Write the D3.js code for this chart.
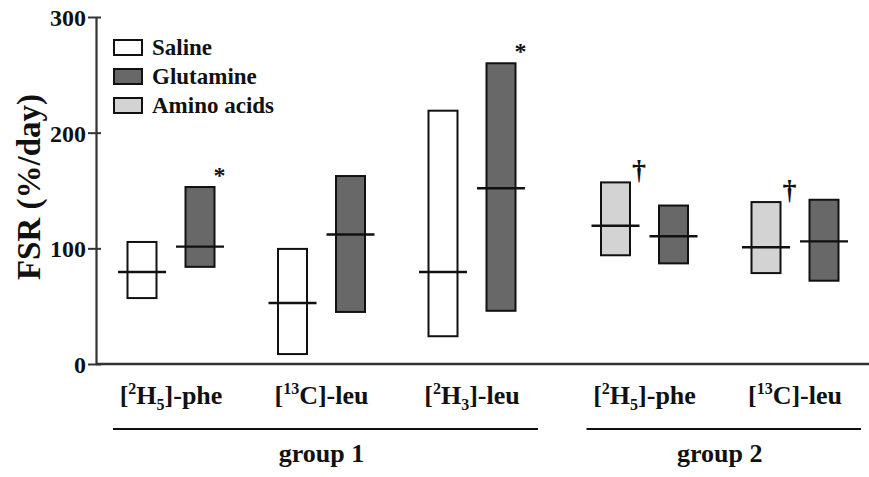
<!DOCTYPE html>
<html>
<head>
<meta charset="utf-8">
<script src="https://cdn.jsdelivr.net/npm/d3@7"></script>
<style>
  body { margin: 0; background: #fff; }
  text { font-family: 'Liberation Serif', 'Times New Roman', serif; font-weight: bold; fill: #111; }
</style>
</head>
<body>
<svg id="chart" width="869" height="477"></svg>
<script>
// categories, in drawing order
const tracers = ['[2H5]-phe', '[13C]-leu', '[2H3]-leu', '[2H5]-phe', '[13C]-leu']
const tracerGroups = ['group 1', 'group 1', 'group 1', 'group 2', 'group 2']
const groupNames = ['group 1', 'group 2']
const treatments = ['Saline', 'Glutamine', 'Amino acids']

// first / second box in each tracer slot
const boxTreatment = [
  ['Saline', 'Glutamine'],
  ['Saline', 'Glutamine'],
  ['Saline', 'Glutamine'],
  ['Amino acids', 'Glutamine'],
  ['Amino acids', 'Glutamine']
]
// min, median, max (FSR %/day)
const boxLow = [[57, 84], [8.6, 45], [24, 46], [94, 87], [78.6, 72]]
const boxMid = [[79.5, 101.5], [52.7, 112], [79.5, 152], [119.5, 110.5], [101, 106]]
const boxHigh = [[105.5, 153], [99.5, 162.5], [219, 260], [157, 137], [140, 142]]
// significance marks next to a box
const marks = [
  { slot: 0, box: 1, sym: '*' },
  { slot: 2, box: 1, sym: '*' },
  { slot: 3, box: 0, sym: '†' },
  { slot: 4, box: 0, sym: '†' }
]
const yTicks = [0, 100, 200, 300]

const fills = { 'Saline': '#ffffff', 'Glutamine': '#686868', 'Amino acids': '#d3d3d3' }

const svg = d3.select('#chart')

const yScale = d3.scaleLinear().domain([0, 300]).range([364, 17])

// slot centres, group 2 pushed right by an extra gap
const slotScale = d3.scaleLinear().domain([0, 1]).range([171, 321.5])
const groupGap = 22
const slotX = i => slotScale(i) + (tracerGroups[i] === 'group 2' ? groupGap : 0)
const boxOffset = d3.scaleOrdinal().domain([0, 1]).range([-29, 29])
const boxW = 29
const medianW = 48

// axes
const yAxis = d3.axisLeft(yScale).tickValues(yTicks).tickSize(8).tickPadding(3).tickSizeOuter(0)
const gy = svg.append('g').attr('transform', 'translate(96,0)').call(yAxis)
gy.select('.domain').attr('stroke', '#333').attr('stroke-width', 2.2)
gy.selectAll('.tick line').attr('stroke', '#333').attr('stroke-width', 2).attr('x2', 5).attr('x1', -8)
gy.selectAll('.tick text').style('font-size', '24px').attr('font-family', null).attr('dy', '0.35em').attr('x', -10)

svg.append('line')
  .attr('x1', 96).attr('x2', 869)
  .attr('y1', yScale(0)).attr('y2', yScale(0))
  .attr('stroke', '#333').attr('stroke-width', 2.4)

svg.append('text')
  .attr('transform', 'translate(40,187) rotate(-90)')
  .attr('text-anchor', 'middle')
  .style('font-size', '33px')
  .text('FSR (%/day)')

// boxes
const boxes = []
tracers.forEach((t, i) => {
  boxTreatment[i].forEach((tr, j) => {
    boxes.push({ cx: slotX(i) + boxOffset(j), treatment: tr, lo: boxLow[i][j], mid: boxMid[i][j], hi: boxHigh[i][j] })
  })
})

const gb = svg.append('g')
gb.selectAll('rect.box').data(boxes).join('rect')
  .attr('class', 'box')
  .attr('x', d => d.cx - boxW / 2)
  .attr('width', boxW)
  .attr('y', d => yScale(d.hi))
  .attr('height', d => yScale(d.lo) - yScale(d.hi))
  .attr('fill', d => fills[d.treatment])
  .attr('stroke', '#111')
  .attr('stroke-width', 2)
gb.selectAll('line.median').data(boxes).join('line')
  .attr('class', 'median')
  .attr('x1', d => d.cx - medianW / 2)
  .attr('x2', d => d.cx + medianW / 2)
  .attr('y1', d => yScale(d.mid))
  .attr('y2', d => yScale(d.mid))
  .attr('stroke', '#111')
  .attr('stroke-width', 2.4)

svg.selectAll('text.mark').data(marks).join('text')
  .attr('class', 'mark')
  .attr('x', d => slotX(d.slot) + boxOffset(d.box) + boxW / 2 + (d.sym === '*' ? 5 : 9))
  .attr('y', d => yScale(boxHigh[d.slot][d.box]) + (d.sym === '*' ? -4 : -3))
  .attr('text-anchor', 'middle')
  .style('font-size', d => d.sym === '*' ? '24px' : '28px')
  .text(d => d.sym)

// tracer labels with super/subscripts
const labelParts = t => {
  const m = t.match(/^\[(\d+)([A-Z])(\d*)\](.*)$/)
  return { sup: m[1], el: m[2], sub: m[3], rest: m[4] }
}
const gl = svg.selectAll('text.tracer').data(tracers).join('text')
  .attr('class', 'tracer')
  .attr('x', (d, i) => slotX(i))
  .attr('y', 404)
  .attr('text-anchor', 'middle')
  .style('font-size', '26px')
gl.each(function (d) {
  const p = labelParts(d)
  const t = d3.select(this)
  t.append('tspan').text('[')
  t.append('tspan').attr('dy', -10).style('font-size', '16px').text(p.sup)
  t.append('tspan').attr('dy', 10).text(p.el)
  if (p.sub) {
    t.append('tspan').attr('dy', 6).style('font-size', '16px').text(p.sub)
    t.append('tspan').attr('dy', -6).text(']' + p.rest)
  } else {
    t.append('tspan').text(']' + p.rest)
  }
})

// group brackets
groupNames.forEach(g => {
  const idx = tracers.map((t, i) => i).filter(i => tracerGroups[i] === g)
  const x0 = slotX(idx[0]) - 58
  const x1 = slotX(idx[idx.length - 1]) + 66
  svg.append('line')
    .attr('x1', x0).attr('x2', x1).attr('y1', 429).attr('y2', 429)
    .attr('stroke', '#111').attr('stroke-width', 2)
  svg.append('text')
    .attr('x', (slotX(idx[0]) + slotX(idx[idx.length - 1])) / 2)
    .attr('y', 462)
    .attr('text-anchor', 'middle')
    .style('font-size', '26px')
    .text(g)
})

// legend
const lg = svg.append('g').attr('transform', 'translate(114,40)')
const li = lg.selectAll('g').data(treatments).join('g')
  .attr('transform', (d, i) => `translate(0,${i * 29})`)
li.append('rect')
  .attr('width', 28).attr('height', 15)
  .attr('fill', d => fills[d])
  .attr('stroke', '#111').attr('stroke-width', 2)
li.append('text')
  .attr('x', 38).attr('y', 15)
  .style('font-size', '23px')
  .text(d => d)
</script>
</body>
</html>
